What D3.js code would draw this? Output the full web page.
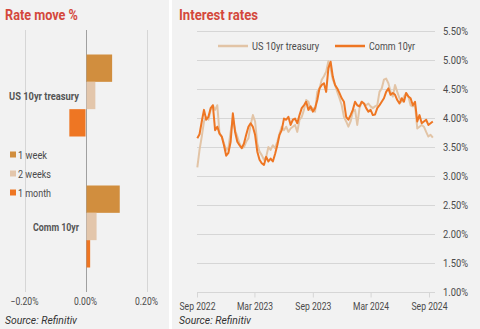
<!DOCTYPE html>
<html>
<head>
<meta charset="utf-8">
<script src="https://cdn.jsdelivr.net/npm/d3@7"></script>
<style>
  body { margin: 0; background: #ffffff; }
  svg text { font-family: "Roboto", "Liberation Sans", sans-serif; }
</style>
</head>
<body>
<div id="chart"></div>
<script>
// -------------------------------------------------------------------------
// Data

var barCategories = ["US 10yr treasury", "Comm 10yr"];
var barSeries = ["1 week", "2 weeks", "1 month"];
var usMoves = [0.084, 0.029, -0.053];
var commMoves = [0.109, 0.033, 0.012];
var barTicks = [-0.2, 0, 0.2];

var lineNames = ["US 10yr treasury", "Comm 10yr"];
var rateTicks = [1, 1.5, 2, 2.5, 3, 3.5, 4, 4.5, 5, 5.5];
var dateTicks = [new Date(2022, 8, 1), new Date(2023, 2, 1), new Date(2023, 8, 1),
                 new Date(2024, 2, 1), new Date(2024, 8, 1)];

// weekly closes (Fridays), Sep 2022 - Sep 2024
var usRates = [
  3.15, 3.45, 3.68, 3.94, 4.02, 3.97, 4.14, 4.22, 4.14, 4.22,
  3.73, 3.68, 3.56, 3.45, 3.48, 3.76, 3.99, 3.79, 3.68, 3.56,
  3.48, 3.50, 3.59, 3.65, 3.88, 4.05, 3.94, 3.56, 3.42, 3.36,
  3.28, 3.33, 3.50, 3.45, 3.53, 3.48, 3.59, 3.73, 3.85, 3.79,
  3.85, 3.76, 3.82, 3.85, 3.88, 3.76, 3.97, 4.02, 4.14, 4.31,
  4.28, 4.14, 4.17, 4.11, 4.45, 4.51, 4.66, 4.72, 4.80, 4.98,
  4.85, 4.66, 4.57, 4.45, 4.34, 4.22, 4.02, 3.94, 3.85, 3.94,
  4.11, 4.14, 3.88, 4.17, 4.28, 4.25, 4.22, 4.25, 4.20, 4.17,
  4.20, 4.22, 4.45, 4.51, 4.66, 4.68, 4.60, 4.45, 4.37, 4.57,
  4.45, 4.34, 4.28, 4.37, 4.43, 4.37, 4.22, 4.20, 4.22, 3.82,
  3.85, 3.88, 3.85, 3.76, 3.68, 3.71, 3.66
];
var commRates = [
  3.65, 3.72, 3.94, 4.14, 3.97, 4.02, 4.17, 4.22, 3.79, 3.85,
  3.73, 3.68, 3.53, 3.35, 3.40, 3.59, 4.08, 3.76, 3.59, 3.53,
  3.48, 3.56, 3.71, 3.85, 3.91, 3.85, 3.71, 3.42, 3.28, 3.22,
  3.19, 3.33, 3.25, 3.30, 3.25, 3.38, 3.53, 3.71, 3.79, 3.99,
  3.97, 4.02, 3.88, 3.97, 3.99, 3.91, 4.05, 4.17, 4.22, 4.28,
  4.14, 4.20, 4.11, 4.17, 4.31, 4.51, 4.57, 4.60, 4.45, 4.86,
  4.97, 4.71, 4.57, 4.51, 4.43, 4.34, 4.28, 4.02, 3.97, 4.05,
  4.14, 4.28, 4.22, 4.20, 4.28, 4.25, 4.17, 4.11, 4.14, 4.05,
  4.06, 4.17, 4.22, 4.28, 4.34, 4.45, 4.51, 4.40, 4.43, 4.40,
  4.31, 4.25, 4.34, 4.28, 4.43, 4.37, 4.34, 4.22, 4.28, 3.94,
  4.05, 3.91, 3.94, 3.97, 3.88, 3.91, 3.94
];
var weekDates = d3.timeFriday.range(new Date(2022, 8, 2), new Date(2024, 8, 14));

// -------------------------------------------------------------------------
// Look

var width = 480, height = 329;
var barColors = ["#d18e3e", "#e3c6ab", "#ee7623"];
var lineColors = ["#e2c4a6", "#ee7623"];
var titleColor = "#d4483c";
var textColor = "#4a4a4a";
var gridColor = "#d6d6d6";

// the reference uses a condensed face, so squeeze text to its measured width
function squeeze(sel, w) {
    sel.attr("textLength", w).attr("lengthAdjust", "spacingAndGlyphs");
}

var svg = d3.select("#chart").append("svg")
    .attr("width", width)
    .attr("height", height);

// panel backgrounds
svg.append("rect").attr("x", 0).attr("y", 0).attr("width", 169).attr("height", height).attr("fill", "#f2f2f2");
svg.append("rect").attr("x", 172).attr("y", 0).attr("width", width - 172).attr("height", height).attr("fill", "#f2f2f2");

// -------------------------------------------------------------------------
// Left: rate move bars

var left = svg.append("g");

left.append("text")
    .attr("x", 5).attr("y", 20)
    .attr("font-size", 14).attr("font-weight", "bold")
    .attr("fill", titleColor)
    .text("Rate move %")
    .call(squeeze, 73);

var xBar = d3.scaleLinear().domain([-0.2, 0.2]).range([24.5, 146.5]);
var yCat = d3.scaleBand().domain(barCategories).range([30, 292])
    .paddingInner(0.374).paddingOuter(0.187);
var ySer = d3.scaleBand().domain(barSeries).range([0, yCat.bandwidth()]);

left.selectAll("line.grid")
    .data(barTicks)
    .enter().append("line")
    .attr("class", "grid")
    .attr("x1", function(d) { return Math.round(xBar(d)) + 0.5; })
    .attr("x2", function(d) { return Math.round(xBar(d)) + 0.5; })
    .attr("y1", 30).attr("y2", 292)
    .attr("stroke", function(d) { return d === 0 ? "#a0a0a0" : gridColor; })
    .attr("stroke-width", 1);

left.selectAll("text.tick")
    .data(barTicks)
    .enter().append("text")
    .attr("class", "tick")
    .attr("x", function(d) { return xBar(d); })
    .attr("y", 305)
    .attr("text-anchor", "middle")
    .attr("font-size", 10.5)
    .attr("fill", textColor)
    .text(function(d) { return d3.format(".2f")(d) + "%"; })
    .each(function(d) { d3.select(this).call(squeeze, d < 0 ? 28 : 23); });

var barRows = [];
barCategories.forEach(function(c, ci) {
    var vals = ci === 0 ? usMoves : commMoves;
    barSeries.forEach(function(s, si) {
        barRows.push({ cat: c, series: s, value: vals[si], color: barColors[si] });
    });
});

left.selectAll("rect.bar")
    .data(barRows)
    .enter().append("rect")
    .attr("class", "bar")
    .attr("x", function(d) { return xBar(Math.min(0, d.value)) + (d.value > 0 ? 1 : 0); })
    .attr("y", function(d) { return yCat(d.cat) + ySer(d.series); })
    .attr("width", function(d) { return Math.abs(xBar(d.value) - xBar(0)); })
    .attr("height", ySer.bandwidth())
    .attr("fill", function(d) { return d.color; });

left.selectAll("text.cat")
    .data(barCategories)
    .enter().append("text")
    .attr("class", "cat")
    .attr("x", 79)
    .attr("y", function(d) { return yCat(d) + yCat.bandwidth() / 2 + 4; })
    .attr("text-anchor", "end")
    .attr("font-size", 11)
    .attr("font-weight", "bold")
    .attr("fill", "#555")
    .text(function(d) { return d; })
    .each(function(d, i) { d3.select(this).call(squeeze, i === 0 ? 70 : 46); });

var barLegend = left.selectAll("g.leg")
    .data(barSeries)
    .enter().append("g")
    .attr("class", "leg")
    .attr("transform", function(d, i) { return "translate(10," + (154.5 + i * 19) + ")"; });

barLegend.append("rect")
    .attr("x", 0).attr("y", -3)
    .attr("width", 6).attr("height", 6)
    .attr("fill", function(d, i) { return barColors[i]; });

barLegend.append("text")
    .attr("x", 8).attr("y", 4)
    .attr("font-size", 11)
    .attr("fill", textColor)
    .text(function(d) { return d; })
    .each(function(d, i) { d3.select(this).call(squeeze, i === 0 ? 29 : 33); });

left.append("text")
    .attr("x", 5).attr("y", 324)
    .attr("font-size", 11).attr("font-style", "italic")
    .attr("fill", "#333")
    .text("Source: Refinitiv")
    .call(squeeze, 72);

// -------------------------------------------------------------------------
// Right: interest rate lines

var right = svg.append("g");

right.append("text")
    .attr("x", 179).attr("y", 20)
    .attr("font-size", 14).attr("font-weight", "bold")
    .attr("fill", titleColor)
    .text("Interest rates")
    .call(squeeze, 79);

var xTime = d3.scaleTime()
    .domain([new Date(2022, 8, 1), new Date(2024, 8, 1)])
    .range([197, 429]);
var yRate = d3.scaleLinear().domain([1, 5.5]).range([292, 31]);

right.selectAll("line.grid")
    .data(rateTicks)
    .enter().append("line")
    .attr("class", "grid")
    .attr("x1", 197).attr("x2", 435)
    .attr("y1", function(d) { return Math.round(yRate(d)) + 0.5; })
    .attr("y2", function(d) { return Math.round(yRate(d)) + 0.5; })
    .attr("stroke", gridColor)
    .attr("stroke-width", 1);

right.selectAll("text.ytick")
    .data(rateTicks)
    .enter().append("text")
    .attr("class", "ytick")
    .attr("x", 443)
    .attr("y", function(d) { return yRate(d) + 4; })
    .attr("font-size", 10.5)
    .attr("fill", textColor)
    .text(function(d) { return d3.format(".2f")(d) + "%"; })
    .call(squeeze, 25);

var xAxis = d3.axisBottom(xTime)
    .tickValues(dateTicks)
    .tickFormat(d3.timeFormat("%b %Y"))
    .tickSize(5)
    .tickSizeOuter(0);

var xAxisG = right.append("g")
    .attr("transform", "translate(0,292.5)")
    .call(xAxis);
xAxisG.select(".domain").remove();
xAxisG.selectAll(".tick line").attr("stroke", gridColor);
xAxisG.selectAll(".tick text")
    .attr("font-family", "Roboto, Liberation Sans, sans-serif")
    .attr("font-size", 10.5)
    .attr("fill", textColor)
    .attr("dy", "0.95em")
    .call(squeeze, 36);

var line = d3.line()
    .x(function(d, i) { return xTime(weekDates[i]); })
    .y(function(d) { return yRate(d); });

[usRates, commRates].forEach(function(series, si) {
    right.append("path")
        .datum(series)
        .attr("d", line)
        .attr("fill", "none")
        .attr("stroke", lineColors[si])
        .attr("stroke-width", 2)
        .attr("stroke-linejoin", "round");
});

var lineLegend = right.selectAll("g.lleg")
    .data(lineNames)
    .enter().append("g")
    .attr("class", "lleg")
    .attr("transform", function(d, i) { return "translate(" + (i === 0 ? 218 : 335) + ",46)"; });

lineLegend.append("line")
    .attr("x1", 0).attr("x2", 30)
    .attr("y1", 0).attr("y2", 0)
    .attr("stroke", function(d, i) { return lineColors[i]; })
    .attr("stroke-width", 2.5);

lineLegend.append("text")
    .attr("x", 34).attr("y", 4)
    .attr("font-size", 11)
    .attr("fill", textColor)
    .text(function(d) { return d; })
    .each(function(d, i) { d3.select(this).call(squeeze, i === 0 ? 67 : 46); });

right.append("text")
    .attr("x", 179).attr("y", 324)
    .attr("font-size", 11).attr("font-style", "italic")
    .attr("fill", "#333")
    .text("Source: Refinitiv")
    .call(squeeze, 72);
</script>
</body>
</html>
